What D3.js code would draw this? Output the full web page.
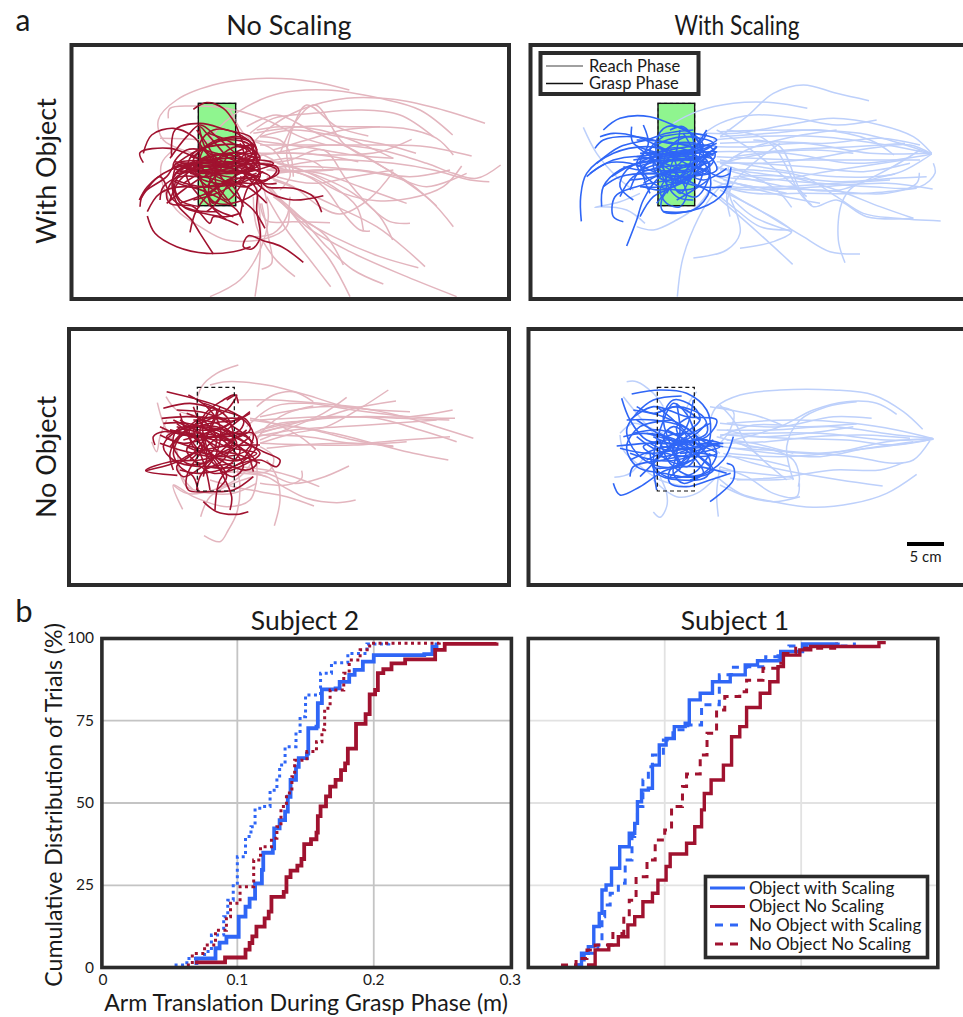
<!DOCTYPE html>
<html><head><meta charset="utf-8">
<script src="https://cdn.jsdelivr.net/npm/d3@7"></script>
<style>html,body{margin:0;padding:0;background:#fff}svg{display:block}text{font-family:"Lato","Open Sans",sans-serif;fill:#1a1a1a}</style>
</head><body><svg id="c" width="963" height="1017"></svg>
<script>
// Hand position traces. Unit: 0.45 mm (5 cm = 111 units). Flat x,y lists.
const reachTL=[
[868,180,760,155,620,145,480,160,350,210,295,270,310,330,400,370],
[1275,280,1130,235,1000,208,860,205,720,240,620,300,560,360],
[1178,315,1080,240,960,205,800,180,660,190,560,230,480,290,450,330],
[1322,405,1250,445,1180,430,1100,400,960,360,800,345,640,370],
[1288,455,1230,450,1120,420,1000,400,800,390,620,420],
[1235,378,1100,350,960,345,800,345,600,345],
[1205,408,1150,470,1050,505,950,512,850,490,750,440,640,410],
[1180,375,1130,325,1030,295,880,290,720,290,580,310],
[1180,590,1110,510,1000,430,880,360,750,300,650,255,560,290],
[1130,528,1050,460,950,400,850,340,765,225,710,270,660,370],
[1055,328,960,365,850,375,700,370,600,370],
[1050,580,990,575,930,530,860,450,790,360,690,390,620,400],
[1068,370,980,345,840,320,700,300,600,320],
[1000,385,880,375,760,355,650,340,570,330],
[1000,425,930,505,840,552,780,530,700,470,620,440],
[930,603,900,600,850,550,790,470,720,430,640,420],
[998,630,960,560,880,490,780,440,650,400],
[910,600,890,530,820,470,700,410,610,390],
[1095,710,1040,660,950,590,830,530,720,480,640,450],
[1075,713,960,680,820,620,700,550,620,470],
[1190,800,1040,740,870,665,740,590,650,500,610,460],
[970,762,880,720,800,650,720,560,640,490],
[870,800,810,690,720,580,630,470],
[812,770,750,690,680,600,620,500],
[850,705,800,620,720,560,640,500],
[705,740,640,680,590,590,580,500],
[450,800,540,750,600,660,625,560,610,470],
[585,800,600,680,600,560,590,470],
[605,718,635,700,625,620,605,520],
[810,578,700,575,620,572,600,520],
[687,540,680,590,620,625,500,630,420,590,350,540,310,470,305,400,340,360],
[925,318,830,290,740,225,700,290,680,370,690,440,660,480],
[895,395,780,375,650,370,590,380],
[300,325,420,330,550,350,640,390],
[325,265,330,235,400,228,500,235,620,270,720,320,800,345],
[790,415,760,395,690,385,600,400],
[820,420,700,425,620,420],
[1120,320,1020,255,900,240,760,250,640,265,570,310],
[1170,420,1050,440,900,420,760,410,640,410],
[1220,430,1100,470,1000,440,880,420,760,420,650,430],
[1000,420,880,440,760,460,650,440],
[510,240,560,320,640,360,680,420],
[1000,385,900,340,780,300,660,290,590,300],
[960,290,850,300,740,330,640,360],
[1040,520,900,470,780,430,660,420],
[700,440,690,370,660,330,600,320],
[690,500,680,560,640,610,560,620]
];
const graspTL=[
[400,238,440,218,490,235,525,280,550,340,580,375],
[250,398,240,368,330,355,420,385,520,395,590,360,560,330,470,330,400,380],
[250,370,275,315,340,295,400,320,450,380,530,420,600,440],
[730,697,665,650,610,632,565,617,550,650,575,657,600,625,590,540,590,480,560,440],
[262,558,285,610,350,650,440,670,520,665,572,650],
[785,547,760,500,700,475,620,470,590,440,530,420],
[790,497,700,510,630,490,590,460],
[460,672,420,610,395,570,350,520,340,440,400,400,480,400],
[238,510,262,470,330,420,420,400,510,410,590,400,650,420,620,450,540,440],
[262,545,300,490,380,470,470,500,530,540,550,580],
[390,607,410,540,470,470,540,430,600,385,560,350,440,350,350,400],
[615,595,580,540,520,490,470,420,430,340,420,290,440,310,500,380],
[330,385,380,320,420,285,470,320,540,380,585,400,600,440,560,470,470,450,390,430],
[520,560,470,540,420,500,380,440,400,370,480,345,560,350,585,375,560,420,470,430,360,410],
[535,585,460,560,450,580,400,530,330,520,320,490,350,440,440,410,540,400,650,410,655,430,580,460],
[240,530,250,490,320,440,350,400,440,390,520,380,580,350,530,310,460,300,420,340,430,420,480,480,520,530],
[345,400,420,420,500,430,590,420,640,400,600,390,500,400,400,410],
[420,530,360,510,345,460,380,420,470,410,560,430,610,460,650,460],
[360,520,440,490,510,450,560,400,580,350,540,320,460,340,400,390,420,450,480,500,440,545],
[445,310,500,330,540,350,580,345,590,375,520,420,440,440,360,440,310,470,300,510],
[550,530,520,470,450,430,390,400,350,410,340,470,370,530,430,550,500,560,540,550],
[320,520,370,480,430,440,500,420,580,440,605,470,550,510,470,520,430,480],
[500,570,450,520,450,450,480,380,530,350,560,360,520,400,440,420,350,430],
[610,425,540,460,460,470,390,470,340,450,370,410,450,380,540,370,590,385],
[600,380,520,410,430,430,340,410,380,360,470,370,560,410,630,440,600,460,500,450],
[460,520,420,440,430,360,500,330,570,345,590,395,540,450,470,490,400,510],
[340,410,420,400,500,395,580,410,530,425,440,420,360,425],
[350,420,430,400,520,405,600,430,560,445,450,430,370,410],
[345,395,440,410,540,430,600,400,520,385,420,395,345,430],
[370,460,440,420,520,400,585,375,500,370,400,400],
[390,380,470,400,560,440,520,460,430,450,370,400],
[420,350,500,400,580,420,545,385,450,375,380,420],
[440,470,480,420,510,370,530,420,500,470,460,520,430,470],
[410,300,460,380,470,470,500,510,540,470,560,400,540,340],
[330,510,360,450,430,400,520,370,570,345],
[240,510,300,440,340,510,400,540,470,545],
[540,560,560,480,600,420,570,340],
[335,380,345,300,420,280,500,300,570,320,590,360],
[440,500,500,460,560,470,600,500,620,520],
[345,450,430,470,520,450,590,430]
];
const reachTR=[
[1047,212,950,190,850,165,760,190,680,260,600,320],
[862,235,760,218,640,220,530,245,460,280],
[1070,270,950,285,830,265,700,255,600,280,540,320],
[1235,370,1180,320,1080,285,940,265,800,285,650,310,560,310],
[1235,372,1140,340,1020,310,850,300,600,305],
[1235,372,1100,345,900,320,700,320,580,330],
[1235,370,1050,370,850,340,700,350,590,350],
[1235,372,1160,385,1000,400,800,370,590,365],
[1235,372,1130,430,950,440,780,420,600,390],
[1200,390,1020,390,850,390,700,385,590,380],
[1240,400,1245,430,1200,470,1050,470,900,460,700,440,590,410],
[1238,477,1100,460,900,470,700,480,600,470],
[1262,573,1130,565,1030,550,950,500,850,440,700,420,600,420],
[1180,565,1040,560,950,510,880,530,840,480,780,350,700,330],
[1020,672,930,665,850,620,800,590,700,530,600,480],
[975,698,955,630,965,520,1000,470,1125,432],
[818,703,750,640,660,560,590,500],
[660,655,760,635,815,605,780,575,680,520,600,470],
[520,684,620,660,660,610,650,550,630,500,625,410],
[472,800,485,700,510,620,560,520,600,470],
[815,532,770,480,680,430,600,400],
[1198,428,1190,460,1100,490,900,480,700,470,610,450],
[190,292,230,370,290,440,340,480],
[375,580,320,540,240,530,225,532,300,515,360,490],
[350,590,400,600,470,570,530,530,570,480],
[875,525,840,490,770,360,720,320,620,300],
[1122,375,1050,330,900,300,750,310,600,320],
[1200,360,1100,420,960,480,800,470,660,440],
[1155,340,1000,350,800,360,640,380],
[1150,390,950,420,750,450,600,440],
[810,600,720,590,650,540,600,500],
[1235,372,1170,345,1050,355,880,385,720,400,590,395],
[1180,565,1080,530,950,480,800,440,640,440],
[1190,475,1040,490,850,490,700,490,610,470],
[630,560,620,500,630,430],
[590,300,680,350,780,430,860,500],
[640,510,700,560,800,600,815,605],
[1200,345,1080,325,920,340,760,335,600,340],
[1170,400,1030,425,860,410,700,400,600,400],
[1220,440,1120,445,960,455,800,440,640,420],
[1110,450,950,460,780,470,640,470,580,450],
[1000,370,880,360,740,370,600,400],
[950,300,820,320,680,360,590,420],
[780,340,700,400,640,460,620,520],
[800,490,700,470,620,460,560,490],
[900,520,800,500,680,470,590,440]
];
const graspTR=[
[184,574,182,500,200,430,280,370,380,350,500,370,590,340],
[320,648,350,570,370,510,420,440,520,400,590,350],
[310,575,280,560,285,500,350,470,450,450,560,430],
[635,470,540,470,440,440,330,400,260,400,200,440],
[633,412,610,490,540,535,430,545,425,510,470,450,540,380],
[250,300,300,265,390,260,470,290,530,320,550,350,480,370,380,370],
[225,355,250,330,340,320,450,340,570,350,585,380,500,420,400,420],
[245,530,250,470,300,420,380,395,480,380,580,390,540,430,450,440],
[360,560,400,500,460,470,520,420,540,350,500,300,440,290,410,330,420,420,470,500,520,510],
[210,430,280,390,360,380,460,410,550,450,620,415],
[340,510,300,470,320,420,400,380,510,360,590,330,520,310,420,320],
[430,545,520,540,570,480,560,410,500,360,430,360,370,420,390,490],
[370,285,385,340,360,400,400,460,470,480,530,470,550,420],
[335,290,340,340,420,370,500,390,570,400,510,440,420,470,360,470],
[560,300,520,360,460,420,420,480,440,520,480,530,500,490,470,430],
[250,470,300,440,400,430,500,440,590,420,560,370,470,340,350,330],
[330,480,360,420,430,380,530,370,580,340,490,320,400,350,350,400,380,450],
[240,320,280,310,350,320,440,360,540,400,500,450,420,480,370,470],
[410,520,440,470,430,400,460,340,520,320,550,370,530,430,470,460,410,440],
[275,440,350,400,440,390,550,380,590,365,520,370,420,380,340,390],
[370,460,430,430,520,410,570,440,520,480,470,510],
[450,300,490,290,520,330,510,400,470,450,420,420,390,360,430,320],
[350,380,430,370,520,360,580,375,500,385,410,395,350,410],
[360,420,440,395,530,385,590,350,510,350,420,365,360,370],
[400,340,460,380,520,420,500,460,440,430,420,380,470,340,530,340],
[330,450,400,440,480,410,560,390,520,420,430,430,350,430],
[480,300,470,360,450,430,480,490,510,440,520,370,490,310],
[310,410,390,420,470,380,540,340,560,310],
[300,500,340,440,430,410,530,410,600,440,630,430],
[230,400,300,350,380,330,440,310,520,300],
[410,420,470,370,540,370,570,420,530,500,470,480],
[440,490,470,420,450,370,400,400,430,450,500,430,560,380],
[350,350,420,400,500,450,560,480,590,500]
];
const reachBL=[
[535,135,470,160,425,200,410,260,430,330],
[450,195,500,185,620,195,740,225,860,260,1050,275],
[1178,270,1050,290,900,290,750,300,600,340],
[1185,295,1050,290,880,270,740,250,640,260,560,320],
[1240,355,1130,320,1030,290,900,265,780,260,600,290],
[1190,365,1080,330,950,295,800,290,600,300],
[1165,420,1060,400,960,375,820,340,690,320,570,345],
[1168,300,1020,295,880,290,740,300,600,330],
[1040,365,880,375,760,375,600,370],
[1000,380,880,360,760,330,640,310,570,300],
[1008,243,880,265,760,300,660,310,570,345],
[985,210,900,265,800,320,700,340,600,370],
[860,232,790,280,700,320,600,360],
[760,258,680,280,620,320,590,360],
[767,388,720,350,640,310,570,295],
[520,240,640,240,760,248,900,262],
[590,260,640,225,700,215,760,245],
[867,438,780,475,700,490,620,460,540,450],
[778,500,700,470,620,450,540,440],
[887,540,830,548,740,535,670,500,620,470,540,460],
[762,558,680,530,600,515,520,500,450,480],
[643,617,660,540,650,470,620,420],
[725,452,725,475,680,495,600,490],
[368,568,340,495,400,530,500,560,570,540,590,480,590,430],
[422,590,450,530,520,490,580,470],
[432,647,480,665,505,630,530,580,540,500,530,440],
[275,365,290,395,300,350,320,300],
[292,248,310,310,350,390,360,460,400,510],
[318,230,350,270,420,290,500,300],
[340,495,380,520,460,510,540,470,580,420],
[1130,300,1000,310,840,320,700,330,590,350],
[1170,350,1030,360,880,370,740,350,600,345],
[1000,378,860,370,720,375,620,385],
[600,380,640,410,630,450,580,460],
[620,470,560,455,480,460],
[360,460,380,500,450,520,520,520,590,490]
];
const graspBL=[
[320,215,400,235,480,260,540,290,580,340,560,390,480,410,380,380],
[257,452,340,430,400,400,480,380,570,375,600,375],
[352,466,257,452,330,425,420,420,500,400,570,350],
[430,545,470,575,530,583,565,575],
[415,515,400,470,360,440,340,400,370,340,450,310,530,300,570,280],
[465,570,480,480,520,440,600,420,650,440,660,420,610,395,520,350,440,320],
[510,570,515,530,480,450,440,380,430,290,490,240,525,225,535,250],
[285,375,280,350,310,335,400,350,500,350,580,340,590,380,520,440,440,440],
[305,295,380,290,470,295,550,300,540,330,450,350,350,340,300,320],
[385,225,440,260,480,320,470,400,420,470,410,510],
[500,240,530,225,500,270,420,310,340,340,310,380,340,420,420,440,520,430],
[570,275,500,330,430,390,380,470,385,510,450,515,520,510,580,470],
[330,380,380,330,470,320,560,370,600,400,540,440,460,460,400,420],
[340,450,330,400,360,350,430,340,520,370,590,430,560,450,480,420,400,350],
[350,270,440,280,520,320,575,370,540,420,450,410,360,390,300,370],
[400,260,430,320,500,370,550,440,520,470,470,440,420,370,410,300],
[310,265,390,250,480,270,560,300,570,330,500,360,410,350,330,330],
[580,455,560,400,490,350,410,320,350,330,340,380,380,430,440,430],
[310,310,380,310,470,340,540,390,500,440,420,460,360,450],
[480,260,450,330,400,400,350,440,370,470,440,430,510,370,560,330],
[430,470,440,400,420,330,460,270,500,290,520,350,490,420,430,450],
[360,300,420,340,470,390,530,420,590,400,500,380,420,340,350,320],
[600,430,520,400,440,390,360,370,320,350,400,320,490,330,560,350],
[380,280,440,310,470,360,450,400,400,380,390,320,430,290],
[340,300,420,330,490,320,540,290],
[370,360,440,340,510,310,460,290,400,320,420,370],
[330,330,420,350,480,380,520,350,470,310,400,300],
[390,420,430,380,450,320,470,270,430,250],
[350,310,410,360,470,420,500,470,470,510],
[300,345,370,370,460,350,540,340,580,370],
[360,280,380,340,420,400,440,460,450,510],
[460,330,420,350,380,390,420,430,480,400,530,370,490,330]
];
const reachBR=[
[1208,328,1150,275,1060,225,940,210,780,210,660,225,590,260,570,300],
[1130,283,1070,250,980,245,880,270,780,320,640,360],
[1240,356,1130,330,1000,310,820,300,620,310],
[1240,356,1100,360,900,340,700,340,600,345],
[1240,358,1050,385,850,400,650,370],
[1238,355,1130,345,940,320,760,330,590,330],
[1055,295,940,290,780,320,600,310],
[1190,463,1100,520,1000,550,880,562,760,545,660,520,590,470],
[1088,498,960,480,840,460,700,430,610,400],
[1150,428,1080,450,940,450,800,470,650,480],
[1180,365,1040,385,900,410,760,400,610,380],
[1230,362,1180,420,1120,430,1000,410,820,395,640,385],
[785,315,720,290,630,270,570,260],
[1010,312,860,320,700,315,600,350],
[820,480,800,380,840,300,920,260,1010,245],
[835,500,838,470,820,420,760,390,690,380],
[838,490,830,530,760,520,680,470,600,440],
[595,590,590,520,600,440],
[400,576,420,592,440,560,440,520,420,470],
[283,472,330,460,380,400],
[320,185,350,185,400,220,430,260],
[530,215,500,270,540,350,600,400],
[630,475,700,480,820,475,600,450],
[800,480,740,430,680,380,590,350],
[600,255,640,300,680,370,720,410],
[600,495,680,530,760,545,840,530],
[300,340,340,310,380,320,430,340],
[310,230,350,280,400,340],
[400,480,470,530,530,520,590,470],
[1240,356,1100,365,960,395,780,410,620,400],
[1170,355,1030,345,880,350,740,365,600,370],
[1240,357,1120,375,980,360,800,355,620,345],
[1000,320,860,340,720,350,620,330],
[810,440,720,420,640,410,590,410],
[820,400,700,370,620,360],
[300,345,310,390,350,430,420,480,500,500],
[590,260,640,275,630,330,590,380]
];
const graspBR=[
[335,222,420,210,500,220,560,270,572,330,560,380,480,400],
[280,490,300,525,360,500,440,450,530,440,620,460],
[570,545,590,530,640,480,640,440,620,430],
[632,460,570,480,500,500,450,490,450,450,520,420],
[640,350,610,420,530,470,430,460,350,440,320,380,360,320,460,300],
[305,235,330,300,380,360,460,370,560,360,590,400,550,460,470,470],
[290,378,380,370,470,370,560,350,590,300,500,290,400,260,330,300],
[485,228,400,240,350,280,320,330,350,400,420,440,500,430,570,370],
[410,510,400,420,420,330,460,250,490,270,520,330,510,410,450,470],
[320,300,400,300,490,320,560,370,600,380,530,400,430,420,340,440,330,470],
[310,350,370,340,470,360,540,410,580,450,520,470,450,430,420,360],
[410,260,460,300,520,360,570,420,560,470,480,480,410,460,390,400],
[330,420,400,390,480,370,560,340,550,290,470,260,410,280],
[360,470,420,410,480,350,540,300,520,260,460,240,430,290,450,370,490,440],
[340,340,420,330,500,360,590,400,500,410,410,390,350,350],
[520,240,500,320,450,380,400,430,440,470,520,460,570,400],
[610,370,530,370,440,360,370,380,420,410,500,390,580,360],
[340,270,430,290,520,340,540,390,470,420,400,420,330,400],
[470,250,480,330,470,400,460,460,490,490,540,470],
[570,310,500,350,440,390,400,440,460,440,530,400,590,410],
[440,330,500,370,480,430,420,400,440,350,520,340],
[400,350,470,375,540,360,600,370,510,385,420,380],
[430,400,490,360,530,400,500,440,460,400,480,340],
[380,420,460,380,530,340,560,310],
[350,300,430,350,510,390,570,440],
[420,340,470,370,520,410,550,460,510,480],
[440,420,480,370,470,320,510,290],
[380,340,450,360,520,380,440,390,390,370],
[300,385,380,400,470,390,560,375,610,380],
[350,260,400,280,470,260,540,300],
[480,450,470,390,500,350,460,320,430,350,460,400]
];

// Cumulative distributions: [arm translation (m), cumulative %]
const s2ObjScale=[[.070,.8],[.070,2.8],[.084,5.9],[.087,7.6],[.092,9.4],[.101,15.5],[.106,18.5],[.109,21],[.113,25.6],[.118,29.7],[.119,34.9],[.126,36.2],[.127,42.3],[.131,44.8],[.135,47.4],[.137,51.9],[.139,57],[.143,61],[.145,63.6],[.151,65],[.152,72.7],[.158,73.2],[.159,80.3],[.162,84.5],[.172,84.8],[.175,86.8],[.182,88.9],[.186,90.4],[.192,92.9],[.2,94.9],[.237,95.2],[.243,97.5],[.246,98.7]];
const s2ObjNo=[[.069,1.6],[.091,3.1],[.106,5.5],[.109,7.5],[.111,9.5],[.114,12.5],[.12,15],[.123,17],[.125,21.5],[.134,23],[.136,27.5],[.139,29.5],[.144,31],[.147,33],[.149,37.5],[.154,39],[.158,41],[.159,46],[.161,49],[.165,52],[.168,55],[.172,57],[.176,60],[.179,62],[.181,66.5],[.187,74],[.194,77],[.197,83],[.201,84.3],[.203,89.4],[.207,90.6],[.213,92.4],[.223,93.6],[.245,96.5],[.252,98.3],[.29,98.7]];
const s2NoObjScale=[[.054,.8],[.063,2.8],[.076,4.9],[.081,9.9],[.09,15.5],[.093,20.5],[.097,25.6],[.1,33.7],[.106,39.8],[.11,42.8],[.113,48.4],[.12,48.9],[.124,53.9],[.129,57.5],[.131,61.5],[.135,67.1],[.143,71.7],[.146,76.2],[.15,82.8],[.161,89.4],[.169,92.6],[.181,95.4],[.195,98.3],[.211,98.7]];
const s2NoObjNo=[[.063,.8],[.067,4.3],[.076,6.9],[.084,11.4],[.092,15.5],[.095,19.6],[.102,24.6],[.112,32.7],[.117,36.7],[.125,39.3],[.129,42.8],[.132,48.9],[.136,53],[.14,58],[.142,63],[.151,65.6],[.158,68.6],[.162,72.2],[.164,78.8],[.168,84.3],[.178,89.4],[.182,93.4],[.19,96.5],[.197,98.5],[.248,98.7]];
const s1ObjScale=[[.034,.8],[.039,4.4],[.044,6.4],[.048,12.5],[.052,16.5],[.054,23.6],[.057,25.1],[.061,30.2],[.067,36.7],[.074,40.8],[.078,43.8],[.08,50.4],[.083,53.9],[.088,54.5],[.091,61.5],[.096,67.6],[.101,69.6],[.107,73.2],[.115,74.2],[.118,81.3],[.126,83.3],[.135,86.8],[.148,88.9],[.159,91.9],[.168,93.2],[.184,93.4],[.185,96],[.201,98.3],[.227,98.7]];
const s1ObjNo=[[.043,.8],[.049,5.4],[.059,6.9],[.066,9.4],[.073,13],[.078,15.5],[.084,20],[.091,22.6],[.095,26.6],[.101,30.7],[.104,34.5],[.116,37.8],[.122,42.8],[.127,47.9],[.129,52.9],[.134,57],[.143,61.5],[.149,70.1],[.155,73.2],[.16,79],[.17,83.3],[.177,86.8],[.183,91.4],[.187,94.9],[.199,96.5],[.207,97.5],[.257,98.7],[.262,98.7]];
const s1NoObjScale=[[.034,.8],[.041,4.4],[.051,6.9],[.054,15.5],[.056,19],[.06,22.6],[.066,25.6],[.071,32.7],[.076,39.8],[.078,43.8],[.08,48.9],[.084,57],[.088,61],[.091,64.6],[.099,69.1],[.106,72.2],[.117,73.7],[.127,79.8],[.14,88.9],[.149,91.2],[.16,91.4],[.174,94.4],[.183,96],[.191,97.7],[.239,98.7]];
const s1NoObjNo=[[.024,.8],[.035,2.8],[.043,5.4],[.049,6.9],[.062,10.4],[.07,15.5],[.074,20.5],[.079,27.6],[.087,32.7],[.093,38.8],[.1,41.8],[.105,48.9],[.113,55],[.116,58.8],[.126,64.6],[.131,71.2],[.138,78.2],[.144,82.3],[.155,83.8],[.16,87.3],[.172,90.9],[.183,92.4],[.187,95.4],[.196,97],[.226,98.7]];

const xTicks=[0,.1,.2,.3], xTickLabels=["0","0.1","0.2","0.3"];
const yTicks=[0,25,50,75,100];
const colTitles=["No Scaling","With Scaling"], rowTitles=["With Object","No Object"];
const subjectTitles=["Subject 2","Subject 1"];
const phaseLabels=["Reach Phase","Grasp Phase"];
const cdfLabels=["Object with Scaling","Object No Scaling","No Object with Scaling","No Object No Scaling"];

const BLUE="#2f66f6",RED="#a0122f",LBLUE="#bdd0fb",LRED="#e3b5be",FRAME="#2b2b2b";
const svg=d3.select("#c");

function panel(o){
  const x=d3.scaleLinear().domain([0,3]).range([o.ox,o.ox+1]);
  const y=d3.scaleLinear().domain([0,3]).range([o.oy,o.oy+1]);
  const g=svg.append("g");
  const line=d3.line().curve(d3.curveCatmullRom.alpha(.5));
  const toPts=a=>d3.range(0,a.length,2).map(i=>[x(a[i]),y(a[i+1])]);
  const box=()=>g.append("rect").attr("x",x(o.rect[0])).attr("y",y(o.rect[1])).attr("width",x(o.rect[2])-x(o.rect[0])).attr("height",y(o.rect[3])-y(o.rect[1]));
  if(o.solid) box().attr("fill","#8ff58f").attr("stroke","#111").attr("stroke-width",1.4);
  g.selectAll(".r").data(o.reach).join("path").attr("d",d=>line(toPts(d))).attr("fill","none").attr("stroke",o.light).attr("stroke-width",1.5);
  g.selectAll(".g").data(o.grasp).join("path").attr("d",d=>line(toPts(d))).attr("fill","none").attr("stroke",o.dark).attr("stroke-width",1.6);
  if(!o.solid) box().attr("fill","none").attr("stroke","#111").attr("stroke-width",1.2).attr("stroke-dasharray","4 3");
  else box().attr("fill","none").attr("stroke","#111").attr("stroke-width",1.2).attr("stroke-dasharray","3 3").attr("opacity",.55);
  svg.append("rect").attr("x",o.fx).attr("y",o.fy).attr("width",o.fw).attr("height",o.fh).attr("fill","none").attr("stroke",FRAME).attr("stroke-width",4);
}
panel({ox:60,oy:30,reach:reachTL,grasp:graspTL,light:LRED,dark:RED,rect:[415,220,527,527],solid:true,fx:71.5,fy:45,fw:437.5,fh:254});
panel({ox:520,oy:30,reach:reachTR,grasp:graspTR,light:LBLUE,dark:BLUE,rect:[414,220,524,527],solid:true,fx:530.5,fy:45,fw:440,fh:254});
panel({ox:60,oy:320,reach:reachBL,grasp:graspBL,light:LRED,dark:RED,rect:[412,202,523,513],solid:false,fx:69,fy:329,fw:440,fh:256});
panel({ox:520,oy:320,reach:reachBR,grasp:graspBR,light:LBLUE,dark:BLUE,rect:[412,202,523,513],solid:false,fx:528.5,fy:329,fw:440,fh:256});

const label=(t,x,y,s,a="middle")=>svg.append("text").attr("x",x).attr("y",y).attr("font-size",s).attr("text-anchor",a).text(t);
label(colTitles[0],289,35,27);
label(colTitles[1],737,35,27).attr("textLength",125).attr("lengthAdjust","spacingAndGlyphs");
[[171,rowTitles[0]],[457,rowTitles[1]]].forEach(([c,t])=>svg.append("text").attr("transform",`translate(56,${c}) rotate(-90)`).attr("font-size",27).attr("text-anchor","middle").text(t));
label("a",23,31,30); label("b",24,622,31);

// reach/grasp legend
svg.append("rect").attr("x",540.5).attr("y",53).attr("width",158).attr("height",41).attr("fill","#fff").attr("stroke",FRAME).attr("stroke-width",4);
[["#808080",66],["#111",83.5]].forEach(([c,y],i)=>{
  svg.append("line").attr("x1",546).attr("x2",583).attr("y1",y).attr("y2",y).attr("stroke",c).attr("stroke-width",1.5);
  label(phaseLabels[i],589,y+5.5,16.5,"start");
});
// scale bar
const barScale=d3.scaleLinear().domain([0,5]).range([907,944]);
svg.append("rect").attr("x",barScale(0)).attr("y",542).attr("width",barScale(5)-barScale(0)).attr("height",4).attr("fill","#000");
label("5 cm",925.5,562,15);

// panel b
function cdf(o){
  const x=d3.scaleLinear().domain([0,.3]).range([o.x0,o.x0+409.3]);
  const y=d3.scaleLinear().domain([0,100]).range([967.7,638.3]);
  const g=svg.append("g");
  g.selectAll(".v").data(xTicks.slice(1,3)).join("line").attr("x1",x).attr("x2",x).attr("y1",y(100)).attr("y2",y(0)).attr("stroke",o.grid).attr("stroke-width",1.8);
  g.selectAll(".h").data(yTicks.slice(1,4)).join("line").attr("x1",x(0)).attr("x2",x(.3)).attr("y1",y).attr("y2",y).attr("stroke",o.grid).attr("stroke-width",1.8);
  const line=d3.line().x(d=>x(d[0])).y(d=>y(d[1])).curve(d3.curveStepAfter);
  o.series.forEach(s=>g.append("path").attr("d",line(s.d)).attr("fill","none").attr("stroke",s.c).attr("stroke-width",s.w).attr("stroke-dasharray",s.dash||null));
  svg.append("rect").attr("x",x(0)+o.fd).attr("y",638.5).attr("width",409.5).attr("height",329).attr("fill","none").attr("stroke",FRAME).attr("stroke-width",3.6);
  return {x,y};
}
const L=cdf({x0:100.9,fd:1,grid:"#c4c4c4",series:[
 {d:s2NoObjScale,c:BLUE,w:3,dash:"3 3.5"},{d:s2ObjScale,c:BLUE,w:3.8},{d:s2ObjNo,c:RED,w:3.8},{d:s2NoObjNo,c:RED,w:3,dash:"3 3.5"}]});
cdf({x0:528.3,fd:0,grid:"#e2e2e2",series:[
 {d:s1ObjScale,c:BLUE,w:3.4},{d:s1NoObjScale,c:BLUE,w:3,dash:"7 6"},{d:s1ObjNo,c:RED,w:3.4},{d:s1NoObjNo,c:RED,w:3,dash:"7 6"}]});
label(subjectTitles[0],305,630,26.5); label(subjectTitles[1],735,630,26.5);
svg.selectAll(".yt").data(yTicks).join("text").attr("x",94).attr("y",d=>L.y(d)+5).attr("text-anchor","end").attr("font-size",15.5).text(d=>d);
svg.selectAll(".xt").data(xTicks).join("text").attr("x",(d,i)=>L.x(d)+(i==0?2:0)).attr("y",985).attr("text-anchor","middle").attr("font-size",15.5).text((d,i)=>xTickLabels[i]);
svg.append("text").attr("transform","translate(62,805) rotate(-90)").attr("font-size",23.2).attr("text-anchor","middle").text("Cumulative Distribution of Trials (%)");
label("Arm Translation During Grasp Phase (m)",306,1011,23.2);

// cdf legend
svg.append("rect").attr("x",705.5).attr("y",876.5).attr("width",222).attr("height",81).attr("fill","#fff").attr("stroke",FRAME).attr("stroke-width",3.6);
[[BLUE,888,null,710],[RED,906.5,null,710],[BLUE,925,"8 7",715],[RED,944,"8 7",715]].forEach(([c,y,da,x1],i)=>{
  svg.append("line").attr("x1",x1).attr("x2",745).attr("y1",y).attr("y2",y).attr("stroke",c).attr("stroke-width",3.2).attr("stroke-dasharray",da);
  label(cdfLabels[i],749,y+5.5,17.2,"start");
});
</script></body></html>
